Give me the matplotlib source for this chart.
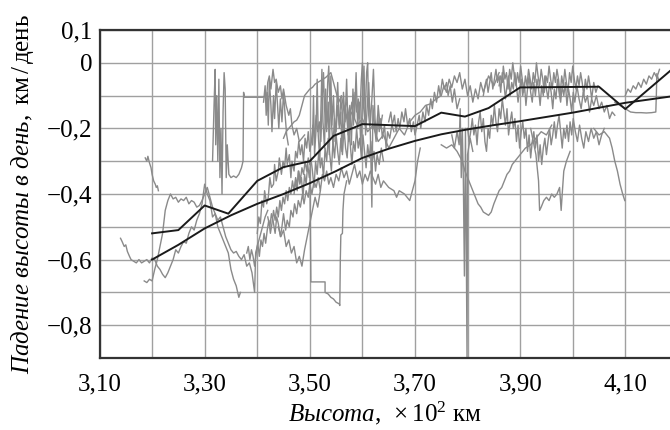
import matplotlib
matplotlib.use("Agg")
import matplotlib.pyplot as plt
from matplotlib.ticker import MultipleLocator, FuncFormatter

# black curves
model_x = [3.20, 3.25, 3.30, 3.35, 3.40, 3.45, 3.50, 3.55, 3.60, 3.65, 3.70,
           3.75, 3.80, 3.85, 3.90, 3.95, 4.00, 4.05, 4.10, 4.185]
model_y = [-0.60, -0.555, -0.505, -0.465, -0.43, -0.40, -0.367, -0.33, -0.29, -0.262, -0.238,
           -0.218, -0.203, -0.19, -0.178, -0.165, -0.152, -0.137, -0.122, -0.103]

mean_x = [3.20, 3.25, 3.30, 3.345, 3.40, 3.45, 3.50, 3.545, 3.60, 3.70, 3.75,
          3.795, 3.84, 3.90, 4.05, 4.10, 4.185]
mean_y = [-0.52, -0.51, -0.435, -0.46, -0.36, -0.318, -0.30, -0.223, -0.187, -0.193, -0.152,
          -0.164, -0.138, -0.075, -0.073, -0.141, -0.025]

# gray observation tracks, (x, y) pairs
g1 = [(3.140, -0.535), (3.143, -0.545), (3.147, -0.56), (3.150, -0.555), (3.153, -0.575),
      (3.157, -0.59), (3.160, -0.60), (3.165, -0.605), (3.170, -0.61), (3.175, -0.60),
      (3.180, -0.61), (3.185, -0.605), (3.190, -0.60), (3.195, -0.61), (3.200, -0.595),
      (3.205, -0.60), (3.210, -0.62), (3.215, -0.63), (3.220, -0.645), (3.225, -0.655),
      (3.230, -0.64), (3.235, -0.62), (3.240, -0.60), (3.245, -0.57), (3.250, -0.58),
      (3.255, -0.56), (3.260, -0.545), (3.265, -0.55), (3.270, -0.52), (3.275, -0.50),
      (3.280, -0.51), (3.285, -0.48), (3.290, -0.46), (3.295, -0.43), (3.300, -0.37),
      (3.305, -0.40), (3.310, -0.42), (3.315, -0.47), (3.320, -0.46), (3.325, -0.50),
      (3.330, -0.52), (3.335, -0.54), (3.340, -0.56), (3.345, -0.58), (3.350, -0.63),
      (3.355, -0.66), (3.360, -0.68), (3.365, -0.715), (3.368, -0.70)]

g2 = [(3.185, -0.665), (3.190, -0.67), (3.195, -0.66), (3.200, -0.665), (3.205, -0.63),
      (3.210, -0.60), (3.215, -0.56), (3.220, -0.52), (3.225, -0.45), (3.230, -0.42),
      (3.235, -0.40), (3.240, -0.415), (3.245, -0.41), (3.250, -0.425), (3.255, -0.415),
      (3.260, -0.42), (3.265, -0.41), (3.270, -0.43), (3.275, -0.42), (3.280, -0.425),
      (3.285, -0.44), (3.290, -0.435), (3.295, -0.42), (3.300, -0.40), (3.305, -0.38),
      (3.310, -0.41), (3.315, -0.44), (3.320, -0.46), (3.325, -0.48), (3.330, -0.47),
      (3.335, -0.50), (3.340, -0.53), (3.345, -0.55), (3.350, -0.57), (3.355, -0.58),
      (3.360, -0.575), (3.365, -0.59), (3.370, -0.60), (3.375, -0.585), (3.380, -0.62),
      (3.385, -0.61), (3.390, -0.64), (3.395, -0.70), (3.397, -0.58), (3.400, -0.56),
      (3.405, -0.53), (3.410, -0.50), (3.415, -0.47), (3.420, -0.45)]

g3 = [(3.187, -0.29), (3.190, -0.30), (3.192, -0.285), (3.195, -0.305), (3.198, -0.32),
      (3.200, -0.34), (3.203, -0.36), (3.206, -0.37), (3.208, -0.38), (3.210, -0.375),
      (3.212, -0.39)]

g4 = [(3.315, -0.30), (3.318, -0.12), (3.320, -0.02), (3.321, -0.25), (3.323, -0.10),
      (3.325, -0.30), (3.327, -0.05), (3.329, -0.35), (3.331, -0.20), (3.333, -0.40),
      (3.335, -0.15), (3.337, -0.03), (3.339, -0.08), (3.341, -0.35), (3.343, -0.25),
      (3.346, -0.34), (3.350, -0.35), (3.355, -0.345), (3.360, -0.35), (3.365, -0.34),
      (3.370, -0.32), (3.373, -0.30), (3.374, -0.09), (3.376, -0.105), (3.380, -0.105),
      (3.390, -0.105), (3.400, -0.105), (3.410, -0.105), (3.418, -0.10), (3.420, -0.06),
      (3.423, -0.04), (3.426, -0.08), (3.430, -0.02), (3.433, -0.06), (3.436, -0.05),
      (3.440, -0.09), (3.444, -0.07), (3.447, -0.11), (3.450, -0.08), (3.455, -0.13),
      (3.460, -0.16), (3.463, -0.14), (3.466, -0.19), (3.470, -0.22), (3.475, -0.20),
      (3.480, -0.24), (3.490, -0.22)]

g5 = [(3.400, -0.52), (3.403, -0.47), (3.406, -0.49), (3.409, -0.42), (3.412, -0.44),
      (3.414, -0.39), (3.418, -0.43), (3.421, -0.41), (3.424, -0.35), (3.427, -0.38),
      (3.431, -0.37), (3.433, -0.31), (3.436, -0.36), (3.440, -0.33), (3.442, -0.29),
      (3.446, -0.34), (3.449, -0.30), (3.452, -0.32), (3.455, -0.26), (3.457, -0.31),
      (3.461, -0.28), (3.464, -0.35), (3.466, -0.30), (3.470, -0.33), (3.473, -0.27),
      (3.476, -0.29), (3.479, -0.24), (3.482, -0.28), (3.485, -0.25), (3.488, -0.30),
      (3.491, -0.23), (3.494, -0.26), (3.497, -0.21), (3.500, -0.27), (3.503, -0.24),
      (3.506, -0.19), (3.509, -0.23), (3.512, -0.16), (3.515, -0.21), (3.518, -0.18),
      (3.521, -0.24), (3.524, -0.10), (3.526, -0.03), (3.528, -0.14), (3.531, -0.20),
      (3.534, -0.06), (3.536, -0.01), (3.538, -0.12), (3.541, -0.18), (3.544, -0.25),
      (3.547, -0.17), (3.550, -0.21), (3.553, -0.13), (3.556, -0.19), (3.559, -0.11),
      (3.562, -0.16), (3.565, -0.22), (3.568, -0.14), (3.571, -0.18), (3.574, -0.24),
      (3.577, -0.15), (3.580, -0.12), (3.583, -0.19), (3.586, -0.09), (3.589, -0.15),
      (3.592, -0.11), (3.595, -0.17), (3.598, -0.05), (3.600, 0.00), (3.602, -0.13),
      (3.605, -0.18), (3.608, -0.03), (3.610, 0.00), (3.612, -0.16), (3.615, -0.21),
      (3.618, -0.44), (3.620, -0.13), (3.623, -0.19), (3.626, -0.24), (3.629, -0.16),
      (3.632, -0.21), (3.635, -0.17), (3.638, -0.23), (3.642, -0.19), (3.645, -0.26),
      (3.648, -0.21), (3.652, -0.23), (3.656, -0.19), (3.660, -0.21)]

g6 = [(3.420, -0.47), (3.424, -0.50), (3.427, -0.46), (3.430, -0.48), (3.434, -0.52),
      (3.437, -0.47), (3.440, -0.49), (3.444, -0.53), (3.447, -0.50), (3.450, -0.46),
      (3.454, -0.51), (3.457, -0.48), (3.461, -0.50), (3.464, -0.45), (3.468, -0.47),
      (3.471, -0.43), (3.475, -0.46), (3.478, -0.42), (3.482, -0.44), (3.486, -0.40),
      (3.489, -0.43), (3.493, -0.39), (3.497, -0.41), (3.500, -0.37), (3.504, -0.40),
      (3.508, -0.36), (3.512, -0.38), (3.516, -0.35), (3.520, -0.39), (3.524, -0.34),
      (3.528, -0.36), (3.532, -0.33), (3.536, -0.37), (3.540, -0.35), (3.545, -0.38),
      (3.550, -0.34), (3.555, -0.36), (3.560, -0.32), (3.565, -0.35), (3.570, -0.33),
      (3.575, -0.37), (3.580, -0.34), (3.585, -0.31), (3.590, -0.35), (3.595, -0.33),
      (3.600, -0.37), (3.605, -0.34), (3.610, -0.36), (3.615, -0.33), (3.620, -0.35),
      (3.625, -0.37), (3.630, -0.34), (3.635, -0.38), (3.640, -0.36), (3.650, -0.38),
      (3.660, -0.39), (3.665, -0.41), (3.670, -0.39), (3.680, -0.40), (3.690, -0.42),
      (3.695, -0.39), (3.700, -0.36), (3.705, -0.30), (3.710, -0.26)]

g7 = [(3.450, -0.23), (3.455, -0.21), (3.460, -0.20), (3.465, -0.19), (3.470, -0.18),
      (3.475, -0.175), (3.480, -0.16), (3.485, -0.13), (3.490, -0.10), (3.495, -0.09),
      (3.500, -0.08), (3.505, -0.075), (3.510, -0.065), (3.515, -0.06), (3.520, -0.055),
      (3.530, -0.045), (3.540, -0.03), (3.545, -0.06), (3.550, -0.09), (3.555, -0.12),
      (3.560, -0.10), (3.565, -0.14), (3.570, -0.12), (3.575, -0.17), (3.580, -0.15),
      (3.590, -0.19), (3.600, -0.17), (3.610, -0.21), (3.620, -0.19), (3.630, -0.24),
      (3.640, -0.22), (3.650, -0.26), (3.660, -0.23), (3.670, -0.20), (3.680, -0.22),
      (3.690, -0.18), (3.700, -0.16), (3.710, -0.15), (3.720, -0.13), (3.730, -0.125),
      (3.740, -0.11), (3.750, -0.10), (3.755, -0.07), (3.760, -0.09), (3.765, -0.05),
      (3.770, -0.075), (3.775, -0.04), (3.780, -0.06), (3.785, -0.03), (3.790, -0.08),
      (3.795, -0.05), (3.800, -0.10), (3.805, -0.07), (3.810, -0.12), (3.815, -0.08),
      (3.820, -0.11), (3.825, -0.06), (3.830, -0.09), (3.840, -0.04), (3.850, -0.07),
      (3.860, -0.03)]

g8 = [(3.500, -0.33), (3.501, -0.49), (3.502, -0.668), (3.515, -0.668), (3.529, -0.668),
      (3.529, -0.70), (3.535, -0.705), (3.540, -0.715), (3.545, -0.72), (3.550, -0.73),
      (3.556, -0.735), (3.557, -0.74), (3.558, -0.60), (3.559, -0.525), (3.562, -0.52),
      (3.563, -0.45), (3.565, -0.40), (3.570, -0.36)]

g9 = [(3.770, -0.22), (3.775, -0.26), (3.780, -0.21), (3.784, -0.25), (3.786, -0.14),
      (3.788, -0.35), (3.790, -0.20), (3.792, -0.36), (3.794, -0.65), (3.796, -0.20),
      (3.799, -0.90), (3.800, -0.28), (3.805, -0.23), (3.810, -0.27)]

g10 = [(3.750, -0.25), (3.760, -0.26), (3.770, -0.25), (3.780, -0.27), (3.790, -0.30),
       (3.795, -0.33), (3.800, -0.35), (3.805, -0.37), (3.810, -0.39), (3.815, -0.41),
       (3.820, -0.43), (3.825, -0.44), (3.830, -0.455), (3.835, -0.46), (3.840, -0.465),
       (3.845, -0.455), (3.850, -0.43), (3.855, -0.41), (3.860, -0.39), (3.865, -0.38),
       (3.870, -0.36), (3.875, -0.34), (3.880, -0.33), (3.885, -0.31), (3.890, -0.30),
       (3.895, -0.29), (3.900, -0.28), (3.910, -0.26), (3.920, -0.25), (3.930, -0.23),
       (3.940, -0.21), (3.950, -0.22), (3.960, -0.19)]

g11 = [(3.830, -0.10), (3.833, -0.07), (3.836, -0.05), (3.839, -0.09), (3.842, -0.06),
       (3.845, -0.03), (3.848, -0.08), (3.851, -0.05), (3.854, -0.02), (3.857, -0.06),
       (3.860, -0.04), (3.863, -0.09), (3.866, -0.03), (3.869, -0.06), (3.872, -0.11),
       (3.875, -0.07), (3.878, -0.04), (3.881, -0.10), (3.884, -0.06), (3.887, -0.08),
       (3.890, -0.03), (3.893, -0.07), (3.896, -0.12), (3.899, -0.08), (3.902, -0.05),
       (3.905, -0.10), (3.908, -0.06), (3.911, -0.13), (3.914, -0.08), (3.917, -0.04),
       (3.920, -0.09), (3.923, -0.12), (3.926, -0.06), (3.929, -0.10), (3.932, -0.05),
       (3.935, -0.08), (3.938, -0.13), (3.941, -0.07), (3.944, -0.10), (3.947, -0.04),
       (3.950, -0.08), (3.953, -0.11), (3.956, -0.06), (3.959, -0.09), (3.962, -0.14),
       (3.965, -0.08), (3.968, -0.11), (3.971, -0.05), (3.974, -0.09), (3.977, -0.12),
       (3.980, -0.07), (3.983, -0.10), (3.986, -0.06), (3.989, -0.13), (3.992, -0.08),
       (3.995, -0.11), (3.998, -0.15), (4.001, -0.09), (4.004, -0.12), (4.008, -0.07),
       (4.012, -0.11), (4.016, -0.14), (4.020, -0.09), (4.024, -0.12), (4.028, -0.10),
       (4.032, -0.15), (4.036, -0.11), (4.040, -0.13), (4.045, -0.10), (4.050, -0.14),
       (4.055, -0.12), (4.060, -0.15), (4.065, -0.13), (4.070, -0.17), (4.075, -0.15),
       (4.080, -0.16)]

g12 = [(3.800, -0.20), (3.803, -0.24), (3.806, -0.21), (3.809, -0.17), (3.812, -0.22),
       (3.815, -0.19), (3.818, -0.25), (3.821, -0.18), (3.824, -0.15), (3.827, -0.21),
       (3.830, -0.17), (3.833, -0.24), (3.836, -0.27), (3.839, -0.20), (3.842, -0.23),
       (3.845, -0.16), (3.848, -0.19), (3.851, -0.13), (3.854, -0.18), (3.857, -0.21),
       (3.860, -0.14), (3.863, -0.17), (3.866, -0.11), (3.869, -0.15), (3.872, -0.19),
       (3.875, -0.14), (3.878, -0.22), (3.881, -0.18), (3.884, -0.15), (3.887, -0.20),
       (3.890, -0.17), (3.893, -0.24), (3.896, -0.19), (3.899, -0.26), (3.902, -0.21),
       (3.905, -0.18), (3.908, -0.23), (3.911, -0.20), (3.914, -0.27), (3.917, -0.22),
       (3.920, -0.29), (3.923, -0.24), (3.926, -0.21), (3.929, -0.26), (3.932, -0.22),
       (3.935, -0.30), (3.938, -0.25), (3.941, -0.31), (3.944, -0.26), (3.947, -0.23),
       (3.950, -0.28), (3.953, -0.24), (3.956, -0.20), (3.959, -0.25), (3.962, -0.22),
       (3.965, -0.18), (3.968, -0.23), (3.971, -0.19), (3.974, -0.16), (3.977, -0.21),
       (3.980, -0.26), (3.983, -0.20), (3.986, -0.23), (3.989, -0.19), (3.992, -0.24),
       (3.995, -0.18), (3.998, -0.22), (4.001, -0.17), (4.005, -0.21), (4.009, -0.24),
       (4.013, -0.19), (4.017, -0.23), (4.021, -0.26), (4.025, -0.21), (4.030, -0.24),
       (4.035, -0.20), (4.040, -0.23), (4.045, -0.21), (4.050, -0.25), (4.055, -0.22),
       (4.060, -0.20)]

g13 = [(3.920, -0.20), (3.925, -0.24), (3.930, -0.28), (3.935, -0.36), (3.937, -0.45),
       (3.940, -0.44), (3.945, -0.42), (3.950, -0.41), (3.955, -0.42), (3.960, -0.40),
       (3.965, -0.41), (3.970, -0.40), (3.975, -0.38), (3.978, -0.45), (3.980, -0.40),
       (3.983, -0.33), (3.988, -0.30), (3.995, -0.27)]

g14 = [(4.040, -0.20), (4.050, -0.22), (4.060, -0.21), (4.070, -0.23), (4.075, -0.26),
       (4.080, -0.30), (4.085, -0.33), (4.090, -0.37), (4.095, -0.40), (4.099, -0.42)]

g15 = [(4.080, -0.12), (4.090, -0.13), (4.100, -0.14), (4.110, -0.15), (4.120, -0.152),
       (4.130, -0.152), (4.140, -0.153), (4.150, -0.152), (4.158, -0.15), (4.159, -0.10),
       (4.160, -0.033), (4.163, -0.05)]

g16 = [(4.100, -0.10), (4.105, -0.08), (4.110, -0.09), (4.115, -0.07), (4.120, -0.08),
       (4.125, -0.06), (4.130, -0.075), (4.135, -0.05), (4.140, -0.065), (4.145, -0.04),
       (4.150, -0.05), (4.155, -0.03), (4.160, -0.045), (4.165, -0.02)]

g17 = [(3.650, -0.18), (3.654, -0.15), (3.657, -0.19), (3.661, -0.16), (3.664, -0.21),
       (3.668, -0.17), (3.671, -0.20), (3.675, -0.15), (3.679, -0.18), (3.682, -0.14),
       (3.686, -0.19), (3.690, -0.17), (3.693, -0.21), (3.697, -0.18), (3.700, -0.22),
       (3.704, -0.19), (3.708, -0.16), (3.711, -0.20), (3.715, -0.15), (3.719, -0.18),
       (3.722, -0.13), (3.726, -0.16), (3.730, -0.11), (3.733, -0.14), (3.737, -0.09),
       (3.741, -0.12), (3.745, -0.07), (3.748, -0.10), (3.752, -0.05), (3.756, -0.08),
       (3.760, -0.06), (3.763, -0.10), (3.767, -0.07), (3.771, -0.12), (3.775, -0.08),
       (3.780, -0.14), (3.785, -0.11)]

g18 = [(3.380, -0.58), (3.383, -0.56), (3.386, -0.60), (3.389, -0.57), (3.392, -0.59),
       (3.395, -0.62), (3.398, -0.58), (3.401, -0.55), (3.404, -0.59), (3.407, -0.54),
       (3.410, -0.56), (3.413, -0.52), (3.416, -0.55), (3.419, -0.51), (3.422, -0.48),
       (3.425, -0.52), (3.428, -0.49), (3.431, -0.45), (3.434, -0.48), (3.437, -0.44),
       (3.440, -0.47), (3.443, -0.42), (3.446, -0.45), (3.449, -0.41), (3.452, -0.43),
       (3.455, -0.39), (3.458, -0.42), (3.461, -0.38), (3.464, -0.40), (3.467, -0.36),
       (3.470, -0.39), (3.473, -0.35), (3.476, -0.37), (3.479, -0.33), (3.482, -0.36),
       (3.485, -0.32), (3.488, -0.34), (3.491, -0.30), (3.494, -0.33), (3.497, -0.29),
       (3.500, -0.31)]

g19 = [(3.440, -0.50), (3.445, -0.53), (3.450, -0.51), (3.455, -0.56), (3.460, -0.54),
       (3.465, -0.58), (3.470, -0.56), (3.475, -0.61), (3.480, -0.59), (3.485, -0.62),
       (3.490, -0.57), (3.495, -0.53), (3.500, -0.49), (3.505, -0.45), (3.510, -0.41),
       (3.515, -0.44), (3.520, -0.39)]

g20 = [(3.470, -0.40), (3.473, -0.36), (3.476, -0.39), (3.478, -0.33), (3.481, -0.37),
       (3.484, -0.35), (3.487, -0.41), (3.490, -0.34), (3.493, -0.37), (3.496, -0.31),
       (3.499, -0.35), (3.502, -0.29), (3.505, -0.33), (3.508, -0.38), (3.511, -0.30),
       (3.514, -0.34), (3.517, -0.27), (3.520, -0.32), (3.523, -0.29), (3.526, -0.35),
       (3.529, -0.26), (3.532, -0.30), (3.535, -0.23), (3.538, -0.28), (3.541, -0.33),
       (3.544, -0.24), (3.547, -0.29), (3.550, -0.22), (3.553, -0.27), (3.556, -0.31),
       (3.559, -0.23), (3.562, -0.28), (3.565, -0.20), (3.568, -0.26), (3.571, -0.29),
       (3.574, -0.21), (3.577, -0.25), (3.580, -0.31), (3.583, -0.24), (3.586, -0.27),
       (3.589, -0.20), (3.592, -0.26), (3.595, -0.23), (3.598, -0.29), (3.601, -0.22),
       (3.604, -0.27), (3.607, -0.32), (3.610, -0.25), (3.613, -0.29), (3.616, -0.24),
       (3.619, -0.30), (3.622, -0.27), (3.625, -0.33), (3.628, -0.28), (3.632, -0.31),
       (3.636, -0.26), (3.640, -0.30)]

g21 = [(3.860, -0.07), (3.863, -0.04), (3.866, -0.06), (3.868, -0.01), (3.871, -0.05),
       (3.874, -0.03), (3.877, -0.08), (3.880, -0.02), (3.883, -0.05), (3.886, 0.00),
       (3.889, -0.04), (3.892, -0.07), (3.895, -0.03), (3.898, -0.06), (3.901, -0.01),
       (3.904, -0.05), (3.907, -0.09), (3.910, -0.04), (3.913, -0.07), (3.916, -0.02),
       (3.919, -0.05), (3.922, -0.08), (3.925, -0.03), (3.928, -0.06), (3.931, 0.00),
       (3.934, -0.04), (3.937, -0.07), (3.940, -0.02), (3.943, -0.05), (3.946, -0.09),
       (3.949, -0.04), (3.952, -0.06), (3.955, -0.01), (3.958, -0.05), (3.961, -0.08),
       (3.964, -0.03), (3.967, -0.06), (3.970, -0.02), (3.973, -0.05), (3.976, -0.10),
       (3.979, -0.04), (3.982, -0.07), (3.985, -0.02), (3.988, -0.06), (3.991, -0.09),
       (3.994, -0.03), (3.997, -0.06), (4.000, -0.01), (4.003, -0.05), (4.006, -0.08),
       (4.009, -0.04), (4.012, -0.07), (4.015, -0.03), (4.018, -0.06), (4.021, -0.10),
       (4.024, -0.05), (4.027, -0.08), (4.030, -0.04), (4.033, -0.07), (4.036, -0.11),
       (4.040, -0.06), (4.044, -0.09), (4.048, -0.07)]

g22 = [(3.505, -0.25), (3.507, -0.10), (3.509, -0.28), (3.512, -0.20), (3.514, -0.05),
       (3.516, -0.22), (3.519, -0.30), (3.521, -0.15), (3.523, -0.02), (3.525, -0.18),
       (3.528, -0.26), (3.530, -0.08), (3.532, -0.21), (3.535, -0.12), (3.537, -0.28),
       (3.540, -0.04), (3.542, -0.19), (3.545, -0.10), (3.548, -0.24), (3.551, -0.14),
       (3.553, -0.06), (3.556, -0.20), (3.559, -0.15), (3.561, -0.27), (3.564, -0.09),
       (3.567, -0.18), (3.570, -0.05), (3.573, -0.22), (3.576, -0.13), (3.579, -0.25),
       (3.582, -0.08), (3.585, -0.17), (3.588, -0.03), (3.591, -0.20), (3.594, -0.12),
       (3.597, -0.26), (3.600, -0.10), (3.603, -0.01), (3.606, -0.22), (3.609, -0.14),
       (3.612, -0.06), (3.615, -0.19), (3.618, -0.11), (3.621, -0.02), (3.624, -0.17),
       (3.627, -0.23), (3.630, -0.13), (3.634, -0.20), (3.638, -0.16)]

g23 = [(3.412, -0.12), (3.415, -0.07), (3.417, -0.16), (3.419, -0.09), (3.421, -0.19),
       (3.423, -0.05), (3.426, -0.13), (3.428, -0.21), (3.431, -0.10), (3.433, -0.17),
       (3.436, -0.06), (3.439, -0.14), (3.441, -0.20), (3.444, -0.11), (3.447, -0.18),
       (3.450, -0.09), (3.453, -0.16), (3.456, -0.22), (3.459, -0.25)]

tracks = [g1, g2, g3, g4, g5, g6, g7, g8, g9, g10, g11, g12, g13, g14, g15, g16, g17,
          g18, g19, g20, g21, g22, g23]

x_labels = [3.10, 3.30, 3.50, 3.70, 3.90, 4.10]
y_labels = [-0.8, -0.6, -0.4, -0.2, 0.0, 0.1]

plt.rcParams["font.family"] = "Liberation Serif"
plt.rcParams["mathtext.fontset"] = "custom"
plt.rcParams["mathtext.rm"] = "Liberation Serif"
plt.rcParams["mathtext.it"] = "Liberation Serif:italic"

fig = plt.figure(figsize=(6.7, 4.3), dpi=100)
ax = fig.add_axes([99.5 / 670, 1 - 358 / 430, 1 - 99.5 / 670, 328 / 430])

for tr in tracks:
    xs = [p[0] for p in tr]
    ys = [p[1] for p in tr]
    ax.plot(xs, ys, color="#8a8a8a", lw=1.0, zorder=2)

ax.plot(model_x, model_y, color="#1a1a1a", lw=1.4, zorder=3)
ax.plot(mean_x, mean_y, color="#1a1a1a", lw=1.4, zorder=3)

ax.set_xlim(3.10, 4.185)
ax.set_ylim(-0.9, 0.1)

ax.set_xticks(x_labels)
ax.xaxis.set_minor_locator(MultipleLocator(0.1))
ax.set_yticks(y_labels)
ax.yaxis.set_minor_locator(MultipleLocator(0.1))


def fmt_x(v, pos):
    return f"{v:.2f}".replace(".", ",")


def fmt_y(v, pos):
    if abs(v) < 1e-9:
        return "0"
    s = f"{abs(v):.1f}".replace(".", ",")
    return ("\u2212" + s) if v < 0 else s


ax.xaxis.set_major_formatter(FuncFormatter(fmt_x))
ax.yaxis.set_major_formatter(FuncFormatter(fmt_y))
ax.tick_params(which="both", length=0, labelsize=18)
ax.tick_params(axis="x", pad=11)
ax.tick_params(axis="y", pad=5)

ax.grid(True, which="both", color="#a0a0a0", lw=1.0, zorder=0)
ax.set_axisbelow(True)

for side in ["left", "bottom", "top"]:
    ax.spines[side].set_color("#333333")
    ax.spines[side].set_linewidth(1.6)
ax.spines["right"].set_visible(False)

ax.set_xlabel(r"$\mathit{Высота,}\ \times10^{2}\ \mathrm{км}$", fontsize=18, labelpad=3)
ax.set_ylabel(r"$\mathit{Падение\ высоты\ в\ день,}\ \mathrm{км\,/\,день}$", fontsize=18)
ax.yaxis.set_label_coords(-0.112, 0.5)

fig.savefig("out.png", dpi=100)
